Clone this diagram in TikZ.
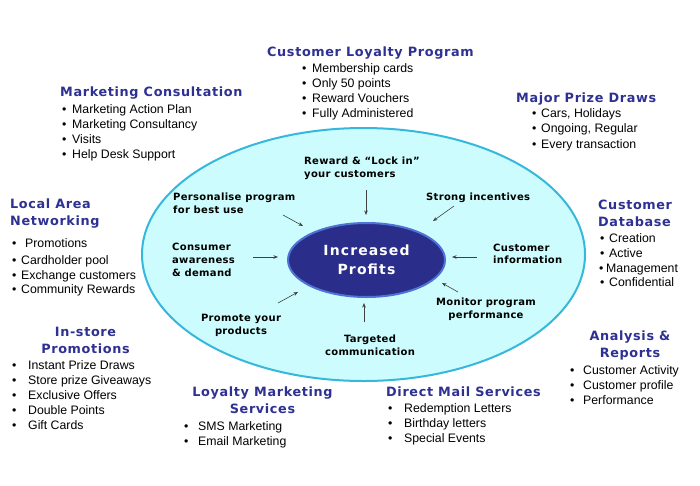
\documentclass[tikz,border=0pt]{standalone}
\usepackage{fontspec}
\setmainfont{Liberation Sans}
\newfontfamily\hfont{DejaVu Sans}[LetterSpace=5]
\newfontfamily\lfont{DejaVu Sans}[LetterSpace=3]
\newfontfamily\cfont{DejaVu Sans}[LetterSpace=8]
\usetikzlibrary{arrows.meta,shapes.geometric}
\definecolor{navy}{HTML}{2E3192}
\definecolor{cyanfill}{HTML}{CCFCFD}
\definecolor{cyanline}{HTML}{36B8DC}
\definecolor{corefill}{HTML}{2B2D8A}
\definecolor{coreline}{HTML}{4F73D4}
\newcommand\blist[6]{%
  \foreach \t [count=\i] in {#6}{%
    \node[body,anchor=base west] (#1\i) at (#2,{#3+#5*(\i-1)}) {\makebox[#4][l]{\textbullet}\t};}}
\begin{document}
\begin{tikzpicture}[x=1pt,y=-1pt,
  title/.style={font=\hfont\bfseries\fontsize{12.8}{17}\selectfont, text=navy, inner sep=0pt},
  body/.style={font=\fontsize{12.3}{15}\selectfont, inner sep=0pt},
  lbl/.style={font=\lfont\bfseries\fontsize{10}{12.7}\selectfont, inner sep=0pt},
  arr/.style={-{Stealth[length=4.5pt,width=3.5pt]}, draw=black!75, line width=0.6pt}]
\useasboundingbox[fill=white] (0,0) rectangle (700,485);

% ellipses
\node[draw=cyanline, line width=2pt, fill=cyanfill, shape=ellipse, minimum width=443pt, minimum height=253pt, inner sep=0pt] (outer) at (363.5,254.5) {};
\node[draw=coreline, line width=2pt, fill=corefill, shape=ellipse, minimum width=157pt, minimum height=74pt, inner sep=0pt,
  font=\cfont\bfseries\fontsize{14}{19}\selectfont, text=white, align=center] (core) at (366.5,260) {Increased\\Profits};

% inner labels
\node[lbl, align=left, anchor=west] (reward) at (304,168) {Reward \& “Lock in”\\your customers};
\node[lbl, align=left, anchor=west] (pers) at (173,203.5) {Personalise program\\for best use};
\node[lbl, anchor=base west] (strong) at (426,200) {Strong incentives};
\node[lbl, align=left, anchor=west] (consumer) at (172,260) {Consumer\\awareness\\\& demand};
\node[lbl, align=left, anchor=west] (custinfo) at (493,254) {Customer\\information};
\node[lbl, align=center] (promote) at (241,325.5) {Promote your\\products};
\node[lbl, align=center] (targeted) at (370,345) {Targeted\\communication};
\node[lbl, align=center] (monitor) at (486,309.5) {Monitor program\\performance};

% arrows
\coordinate (a1s) at (366,190); \coordinate (a1e) at (366,215);
\coordinate (a2s) at (283,215); \coordinate (a2e) at (303,226);
\coordinate (a3s) at (454,206); \coordinate (a3e) at (433,221);
\coordinate (a4s) at (253,257); \coordinate (a4e) at (278,257);
\coordinate (a5s) at (477,257); \coordinate (a5e) at (452,257);
\coordinate (a6s) at (278,303); \coordinate (a6e) at (298,292);
\coordinate (a7s) at (364,322); \coordinate (a7e) at (364,303);
\coordinate (a8s) at (458,292); \coordinate (a8e) at (442,283);
\foreach \k in {1,...,8}{\draw[arr] (a\k s) -- (a\k e);}

% Customer Loyalty Program
\node[title, anchor=base west] (clp) at (267,56.5) {Customer Loyalty Program};
\blist{clp}{302}{72}{10pt}{15}{Membership cards, Only 50 points, Reward Vouchers, Fully Administered}

% Marketing Consultation
\node[title, anchor=base west] (mc) at (60,96.5) {Marketing Consultation};
\blist{mc}{62}{113}{10pt}{15}{Marketing Action Plan, Marketing Consultancy, Visits, Help Desk Support}

% Major Prize Draws
\node[title, anchor=base west] (mpd) at (516,102.5) {Major Prize Draws};
\blist{mpd}{532}{117}{9pt}{15.5}{{Cars, Holidays}, {Ongoing, Regular}, Every transaction}

% Local Area Networking
\node[title, align=left, anchor=west] (lan) at (10,214) {Local Area\\Networking};
\node[body, anchor=base west] (lan1) at (12,247) {\makebox[13pt][l]{\textbullet}Promotions};
\node[body, anchor=base west] (lan2) at (12,264) {\makebox[9pt][l]{\textbullet}Cardholder pool};
\node[body, anchor=base west] (lan3) at (12,279) {\makebox[9pt][l]{\textbullet}Exchange customers};
\node[body, anchor=base west] (lan4) at (12,293.5) {\makebox[9pt][l]{\textbullet}Community Rewards};

% In-store Promotions
\node[title, align=center] (isp) at (85.5,340) {In-store\\Promotions};
\blist{isp}{12}{369}{16pt}{15}{Instant Prize Draws, Store prize Giveaways, Exclusive Offers, Double Points, Gift Cards}

% Customer Database
\node[title, align=left, anchor=west] (cdb) at (598,213) {Customer\\Database};
\node[body, anchor=base west] (cdb1) at (600,242) {\makebox[9pt][l]{\textbullet}Creation};
\node[body, anchor=base west] (cdb2) at (600,257) {\makebox[9pt][l]{\textbullet}Active};
\node[body, anchor=base west] (cdb3) at (599,272) {\makebox[7pt][l]{\textbullet}Management};
\node[body, anchor=base west] (cdb4) at (600,286.5) {\makebox[9pt][l]{\textbullet}Confidential};

% Analysis & Reports
\node[title, align=center] (ar) at (630,345.5) {Analysis \&\\Reports};
\blist{ar}{570}{374}{13pt}{15}{Customer Activity, Customer profile, Performance}

% Loyalty Marketing Services
\node[title, align=center] (lms) at (262.5,400.5) {Loyalty Marketing\\Services};
\blist{lms}{184}{430}{14pt}{15}{SMS Marketing, Email Marketing}

% Direct Mail Services
\node[title, anchor=base west] (dms) at (386,396.5) {Direct Mail Services};
\blist{dms}{388}{412}{16pt}{15.3}{Redemption Letters, Birthday letters, Special Events}
\end{tikzpicture}
\end{document}
